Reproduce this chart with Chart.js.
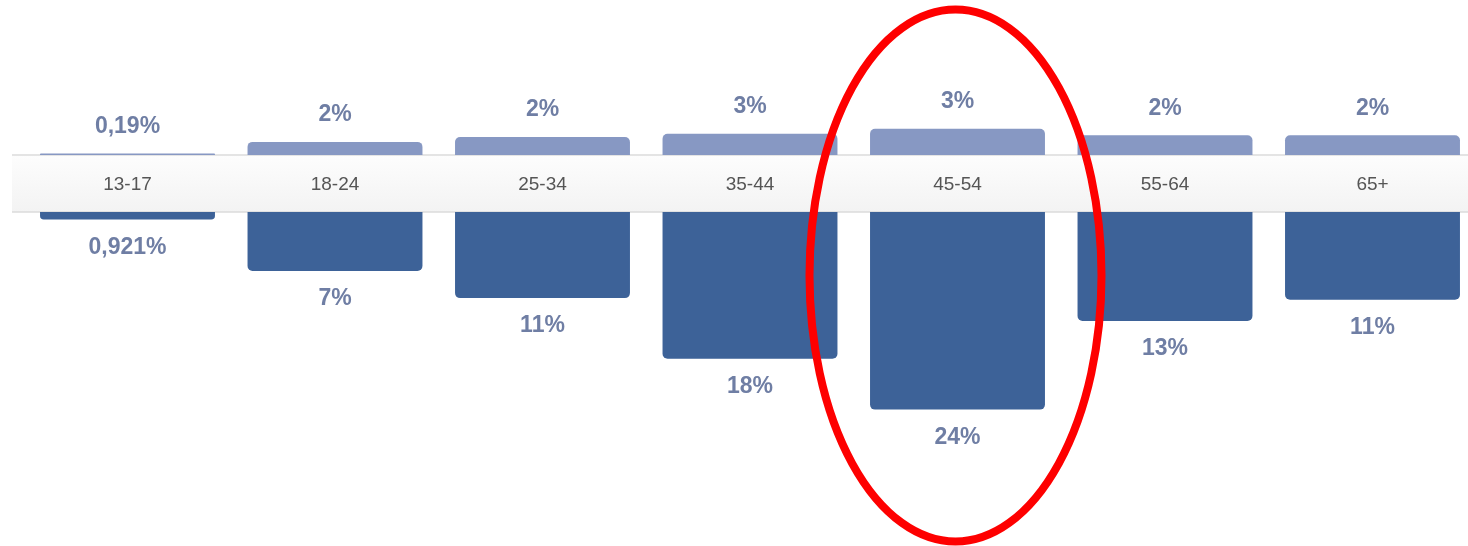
<!DOCTYPE html>
<html>
<head>
<meta charset="utf-8">
<script src="https://cdn.jsdelivr.net/npm/chart.js@4"></script>
<style>
  html, body { margin: 0; padding: 0; background: #fff; overflow: hidden; }
  #wrap { position: relative; width: 1480px; height: 546px; }
</style>
</head>
<body>
<div id="wrap"><canvas id="chart"></canvas></div>
<script>
// age groups, women (top) / men (bottom) share in %
const ageGroups = ['13-17', '18-24', '25-34', '35-44', '45-54', '55-64', '65+'];
const women = [0.19, 1.6, 2.2, 2.6, 3.2, 2.4, 2.4];
const men = [0.921, 7.2, 10.5, 17.9, 24.1, 13.3, 10.7];
const womenLabels = ['0,19%', '2%', '2%', '3%', '3%', '2%', '2%'];
const menLabels = ['0,921%', '7%', '11%', '18%', '24%', '13%', '11%'];
const highlighted = '45-54';

const GAP = 3.476; // half height of the label band, in value units

const valueLabels = {
  id: 'valueLabels',
  beforeDatasetsDraw(chart) {
    const { ctx, scales: { x, y } } = chart;
    const top = y.getPixelForValue(GAP);
    const bottom = y.getPixelForValue(-GAP);
    // grey band holding the age groups
    const g = ctx.createLinearGradient(0, top, 0, bottom);
    g.addColorStop(0, '#fdfdfd');
    g.addColorStop(1, '#f3f3f3');
    ctx.save();
    ctx.fillStyle = g;
    ctx.fillRect(12, top, chart.width, bottom - top);
    ctx.strokeStyle = '#dcdcdc';
    ctx.lineWidth = 1.5;
    ctx.beginPath();
    ctx.moveTo(12, top); ctx.lineTo(chart.width, top);
    ctx.moveTo(12, bottom); ctx.lineTo(chart.width, bottom);
    ctx.stroke();
    ctx.fillStyle = '#555';
    ctx.font = '19px "Liberation Sans", Arial, sans-serif';
    ctx.textAlign = 'center';
    ctx.textBaseline = 'middle';
    ageGroups.forEach((a, i) => {
      ctx.fillText(a, x.getPixelForValue(i), y.getPixelForValue(0) + 1);
    });
    ctx.restore();
  },
  afterDatasetsDraw(chart) {
    const { ctx } = chart;
    ctx.save();
    ctx.fillStyle = '#6f7ea4';
    ctx.font = 'bold 23px "Liberation Sans", Arial, sans-serif';
    ctx.textAlign = 'center';
    ctx.textBaseline = 'middle';
    chart.getDatasetMeta(0).data.forEach((bar, i) => {
      ctx.fillText(womenLabels[i], bar.x, Math.min(bar.y, bar.base) - 27);
    });
    chart.getDatasetMeta(1).data.forEach((bar, i) => {
      ctx.fillText(menLabels[i], bar.x, Math.max(bar.y, bar.base) + 28);
    });
    ctx.restore();
  },
  afterDraw(chart) {
    // red ring around the highlighted group
    const { ctx, scales: { x, y } } = chart;
    const cx = x.getPixelForValue(ageGroups.indexOf(highlighted)) - 2;
    const cy = y.getPixelForValue(0) + 92;
    ctx.save();
    ctx.strokeStyle = '#fe0000';
    ctx.lineWidth = 8;
    ctx.beginPath();
    ctx.ellipse(cx, cy, 146, 266, 0, 0, Math.PI * 2);
    ctx.stroke();
    ctx.restore();
  },
};

new Chart(document.getElementById('chart'), {
  type: 'bar',
  data: {
    labels: ageGroups,
    datasets: [{
      label: 'Women',
      data: women.map(v => [GAP, GAP + v]),
      backgroundColor: '#8798c3',
      borderSkipped: false,
      borderRadius: { topLeft: 5, topRight: 5, bottomLeft: 0, bottomRight: 0 },
      grouped: false,
    }, {
      label: 'Men',
      data: men.map(v => [-GAP, -GAP - v]),
      backgroundColor: '#3d6298',
      borderSkipped: false,
      borderRadius: { topLeft: 0, topRight: 0, bottomLeft: 5, bottomRight: 5 },
      grouped: false,
    }],
  },
  options: {
    responsive: true,
    maintainAspectRatio: false,
    animation: false,
    layout: { padding: { left: 23.75, right: 3.75, top: 0, bottom: 0 } },
    datasets: { bar: { barPercentage: 0.843, categoryPercentage: 1 } },
    plugins: { legend: { display: false }, tooltip: { enabled: false } },
    scales: {
      x: { display: false },
      y: { display: false, min: -44.21, max: 22.38 },
    },
  },
  plugins: [valueLabels],
});
</script>
</body>
</html>
